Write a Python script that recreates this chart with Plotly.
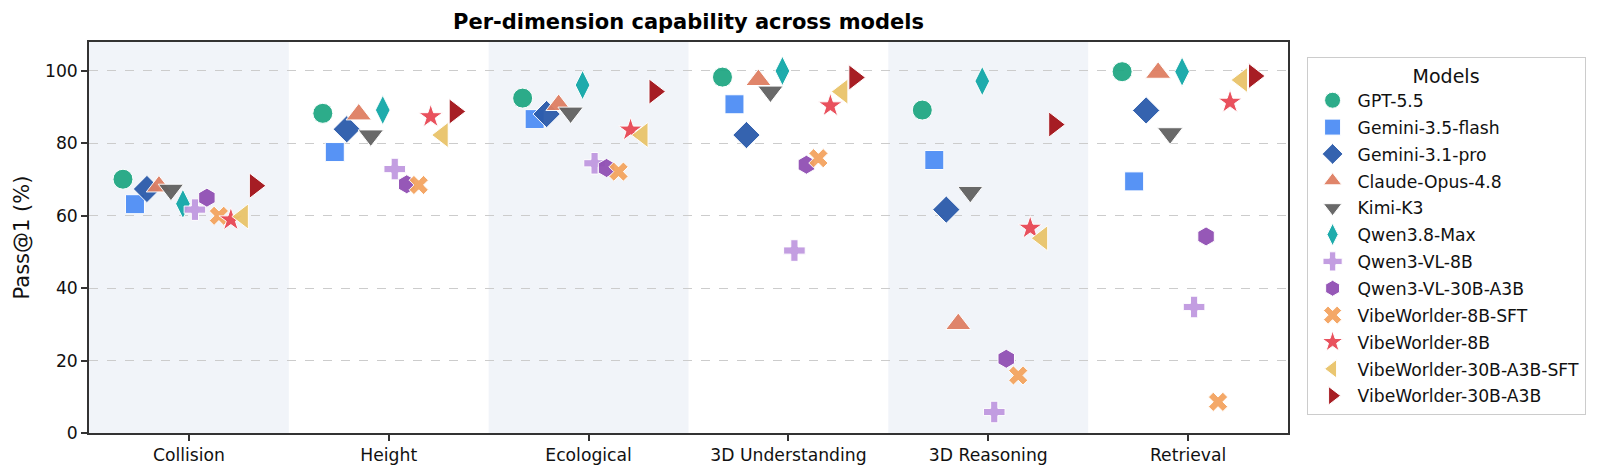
import plotly.graph_objects as go

# categories on the x axis
dimensions = ["Collision", "Height", "Ecological", "3D Understanding", "3D Reasoning", "Retrieval"]

models = ["GPT-5.5", "Gemini-3.5-flash", "Gemini-3.1-pro", "Claude-Opus-4.8", "Kimi-K3",
          "Qwen3.8-Max", "Qwen3-VL-8B", "Qwen3-VL-30B-A3B", "VibeWorlder-8B-SFT",
          "VibeWorlder-8B", "VibeWorlder-30B-A3B-SFT", "VibeWorlder-30B-A3B"]

# pass@1 (%) per model, in dimension order
gpt_55 = [70.1, 88.3, 92.5, 98.3, 89.2, 99.8]
gemini_35_flash = [63.2, 77.6, 86.7, 90.8, 75.4, 69.5]
gemini_31_pro = [67.4, 83.9, 88.1, 82.3, 61.7, 89.1]
claude_opus_48 = [68.1, 88.0, 90.6, 97.5, 30.1, 99.5]
kimi_k3 = [67.2, 82.2, 88.5, 94.3, 66.6, 82.8]
qwen38_max = [63.3, 89.2, 96.1, 100.0, 97.2, 99.8]
qwen3_vl_8b = [61.7, 72.9, 74.5, 50.4, 5.8, 34.8]
qwen3_vl_30b = [65.0, 68.7, 73.2, 74.1, 20.5, 54.3]
vw_8b_sft = [60.0, 68.5, 72.2, 75.9, 15.9, 8.6]
vw_8b = [58.9, 87.4, 83.7, 90.4, 56.6, 91.4]
vw_30b_sft = [59.8, 82.3, 82.3, 94.3, 53.8, 97.5]
vw_30b = [68.3, 88.8, 94.3, 98.2, 85.2, 98.6]

scores = [gpt_55, gemini_35_flash, gemini_31_pro, claude_opus_48, kimi_k3, qwen38_max,
          qwen3_vl_8b, qwen3_vl_30b, vw_8b_sft, vw_8b, vw_30b_sft, vw_30b]

colors = ["#22a884", "#4f8ef5", "#2b5bab", "#df7f63", "#616161", "#13a8a8",
          "#c099e0", "#9150b4", "#f4a460", "#e84855", "#e9c46a", "#a31219"]
symbols = ["circle", "square", "diamond", "triangle-up", "triangle-down", "diamond-tall",
           "cross", "hexagon", "x", "star", "triangle-left", "triangle-right"]
sizes = [20, 19, 21, 22, 22, 21, 18, 19, 17, 18, 22, 22]

step = 0.06   # horizontal spread of the models inside one dimension

fig = go.Figure()

for i, name in enumerate(models):
    xs = [j + (i - (len(models) - 1) / 2) * step for j in range(len(dimensions))]
    fig.add_trace(go.Scatter(
        x=xs, y=scores[i], mode="markers", name=name, legendgroup=name,
        marker=dict(symbol=symbols[i], color=colors[i], size=sizes[i], opacity=0.95,
                    line=dict(color="white", width=1)),
    ))

# shaded bands behind every other dimension
for j in range(0, len(dimensions), 2):
    fig.add_shape(type="rect", xref="x", yref="paper", x0=j - 0.5, x1=j + 0.5, y0=0, y1=1,
                  fillcolor="#f1f4f9", line_width=0, layer="below")

# the page body has an 8px margin, so the plot area is pulled up/left by that much
fig.update_layout(
    width=1600, height=476,
    font=dict(family="DejaVu Sans", size=17.2, color="#111111"),
    title=dict(text="<b>Per-dimension capability across models</b>", x=0.5, xref="paper",
               xanchor="center", y=0.972, yanchor="middle", font=dict(size=21, color="black")),
    margin=dict(l=73, r=320, t=34, b=51),
    plot_bgcolor="white", paper_bgcolor="white",
    legend=dict(title=dict(text="Models", side="top center", font=dict(size=19)),
                x=1.0155, xanchor="left", y=0.962, yanchor="top",
                bgcolor="white", bordercolor="#cccccc", borderwidth=1,
                itemwidth=40, tracegroupgap=1.5, font=dict(size=17.2)),
)

fig.update_xaxes(range=[-0.5, 5.5], tickvals=list(range(len(dimensions))), ticktext=dimensions,
                 showgrid=False, zeroline=False, showline=True, mirror=True,
                 linecolor="#333333", linewidth=1.5, ticks="outside", ticklen=6,
                 tickcolor="#333333", tickwidth=1.5)
fig.update_yaxes(range=[0, 108], dtick=20, showgrid=True, gridcolor="#cccccc", griddash="dash",
                 gridwidth=1, zeroline=False, showline=True, mirror=True,
                 linecolor="#333333", linewidth=1.5, ticks="outside", ticklen=6,
                 tickcolor="#333333", tickwidth=1.5,
                 title=dict(text="Pass@1 (%)", standoff=10))

fig.write_html("out.html")
